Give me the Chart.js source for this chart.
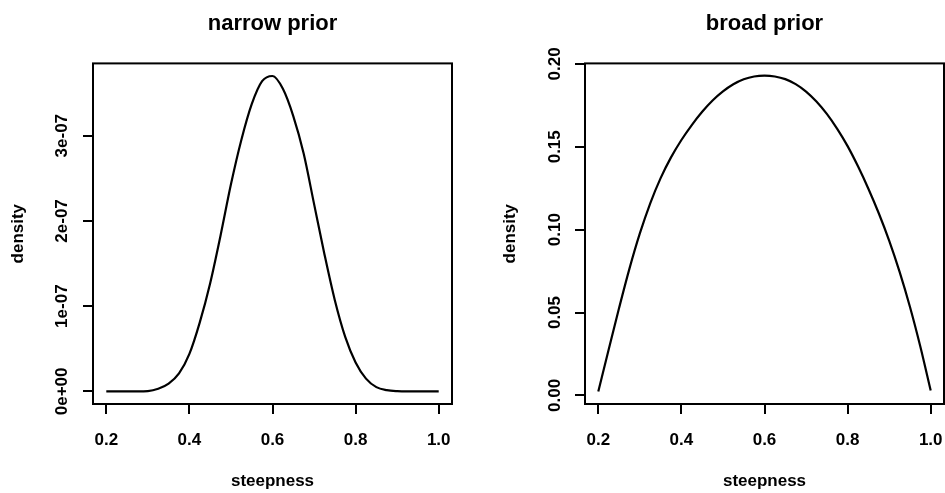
<!DOCTYPE html>
<html>
<head>
<meta charset="utf-8">
<script src="https://cdn.jsdelivr.net/npm/chart.js@4.4.0/dist/chart.umd.min.js"></script>
<style>
  html, body { margin: 0; padding: 0; background: #fff; }
  #wrap { position: relative; width: 945px; height: 493px; }
  canvas { position: absolute; top: 0; }
</style>
</head>
<body>
<div id="wrap">
  <canvas id="narrow" width="472" height="493" style="left:0px"></canvas>
  <canvas id="broad" width="473" height="493" style="left:472px"></canvas>
</div>
<script>
// steepness grid (x values) shared by both panels
var steepness = [0.2, 0.225, 0.25, 0.275, 0.3, 0.325, 0.35, 0.375, 0.4, 0.425, 0.45, 0.475,
  0.5, 0.525, 0.55, 0.575, 0.6, 0.625, 0.65, 0.675, 0.7, 0.725, 0.75, 0.775,
  0.8, 0.825, 0.85, 0.875, 0.9, 0.925, 0.95, 0.975, 1.0];

// narrow prior density
var narrowDensity = [0, 0, 0, 0, 0.003e-7, 0.03e-7, 0.09e-7, 0.21e-7, 0.44e-7, 0.81e-7, 1.27e-7, 1.83e-7,
  2.43e-7, 2.95e-7, 3.37e-7, 3.64e-7, 3.70e-7, 3.55e-7, 3.23e-7, 2.79e-7, 2.20e-7, 1.61e-7, 1.07e-7, 0.64e-7,
  0.34e-7, 0.15e-7, 0.05e-7, 0.015e-7, 0.003e-7, 0, 0, 0, 0];

// broad prior density
var broadDensity = [0.0024, 0.0277, 0.0527, 0.0765, 0.0977, 0.1159, 0.1311, 0.1436, 0.1541, 0.1631, 0.1711, 0.1779,
  0.1834, 0.1877, 0.1907, 0.1924, 0.1929, 0.1924, 0.1908, 0.1878, 0.1833, 0.1773, 0.1698, 0.1608,
  0.1504, 0.1382, 0.1247, 0.1099, 0.0934, 0.0747, 0.0535, 0.0295, 0.0029];

var xTicks = [0.2, 0.4, 0.6, 0.8, 1.0];
var xTickLabels = ['0.2', '0.4', '0.6', '0.8', '1.0'];
var narrowTicks = [0, 1e-7, 2e-7, 3e-7];
var narrowTickLabels = ['0e+00', '1e-07', '2e-07', '3e-07'];
var broadTicks = [0, 0.05, 0.10, 0.15, 0.20];
var broadTickLabels = ['0.00', '0.05', '0.10', '0.15', '0.20'];

Chart.defaults.font.family = '"Liberation Sans", Arial, Helvetica, sans-serif';
Chart.defaults.font.size = 17;
Chart.defaults.font.weight = 'bold';
Chart.defaults.color = '#000';

// box round the plot area, like R's box()
var boxPlugin = {
  id: 'box',
  afterDraw: function(chart) {
    var a = chart.chartArea, c = chart.ctx;
    c.save();
    c.strokeStyle = '#000';
    c.lineWidth = 2;
    c.strokeRect(a.left, a.top, a.right - a.left, a.bottom - a.top);
    c.restore();
  }
};

function drawPrior(id, title, values, yTicks, yLabels, yMin, yMax, yWidth, padRight, yLabelPad) {
  var points = steepness.map(function(s, i) { return {x: s, y: values[i]}; });
  return new Chart(document.getElementById(id), {
    type: 'line',
    data: {
      datasets: [{
        data: points,
        borderColor: '#000',
        borderWidth: 2.2,
        pointRadius: 0,
        cubicInterpolationMode: 'monotone',
        fill: false
      }]
    },
    options: {
      responsive: false,
      animation: false,
      layout: { padding: { left: 0, right: padRight, top: 0, bottom: 0 } },
      plugins: {
        legend: { display: false },
        tooltip: { enabled: false },
        title: {
          display: true,
          text: title,
          fullSize: false,
          font: { size: 22, weight: 'bold' },
          padding: { top: 11, bottom: 26 }
        }
      },
      scales: {
        x: {
          type: 'linear',
          min: 0.168,
          max: 1.032,
          afterBuildTicks: function(s) { s.ticks = xTicks.map(function(v) { return {value: v}; }); },
          afterFit: function(s) { s.height = 89; s.paddingLeft = 0; s.paddingRight = 0; },
          border: { display: false },
          grid: { drawOnChartArea: false, drawTicks: true, tickLength: 10, color: '#000', lineWidth: 2 },
          ticks: { padding: 16, maxRotation: 0, callback: function(v, i) { return xTickLabels[i]; } },
          title: { display: true, text: 'steepness', padding: { top: 0, bottom: 1 } }
        },
        y: {
          min: yMin,
          max: yMax,
          afterBuildTicks: function(s) { s.ticks = yTicks.map(function(v) { return {value: v}; }); },
          afterFit: function(s) { s.width = yWidth; s.paddingTop = 0; s.paddingBottom = 0; },
          border: { display: false },
          grid: { drawOnChartArea: false, drawTicks: true, tickLength: 10, color: '#000', lineWidth: 2 },
          ticks: { minRotation: 90, maxRotation: 90, crossAlign: 'center', padding: yLabelPad,
                   callback: function(v, i) { return yLabels[i]; } },
          title: { display: true, text: 'density', padding: { top: yWidth - 85, bottom: 0 } }
        }
      }
    },
    plugins: [boxPlugin]
  });
}

drawPrior('narrow', 'narrow prior', narrowDensity, narrowTicks, narrowTickLabels, -0.148e-7, 3.848e-7, 93, 20, -3.5);
drawPrior('broad', 'broad prior', broadDensity, broadTicks, broadTickLabels, -0.0052, 0.2003, 113, 1, 3.5);
</script>
</body>
</html>
